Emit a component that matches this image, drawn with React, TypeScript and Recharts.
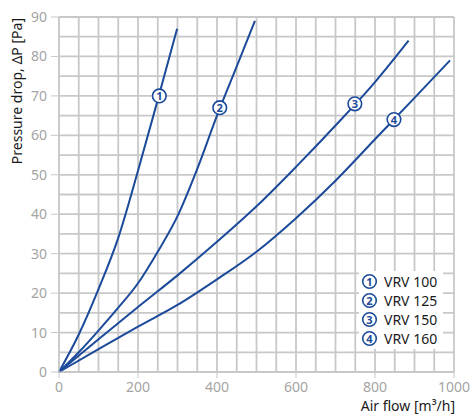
import { LineChart, Line, XAxis, YAxis, ReferenceLine, ReferenceDot } from "recharts"

// --- Pressure drop curves ---
const SERIES = ["VRV 100", "VRV 125", "VRV 150", "VRV 160"]

const flow100 = [0, 50, 100, 150, 200, 250, 299]
const dp100 = [0, 9.5, 21, 34, 51, 69, 87]

const flow125 = [0, 50, 100, 150, 200, 250, 300, 350, 400, 450, 496]
const dp125 = [0, 5, 10.5, 16.3, 22.5, 30.5, 39.5, 51.5, 65, 77.5, 89]

const flow150 = [0, 100, 200, 300, 400, 500, 600, 700, 800, 885]
const dp150 = [0, 8.3, 16.5, 24.5, 33, 42, 52, 62.5, 73.5, 84]

const flow160 = [0, 100, 200, 300, 400, 500, 600, 700, 800, 900, 990]
const dp160 = [0, 5.8, 11.5, 17, 23.5, 30.5, 39, 48.5, 59, 69.5, 79]

// where the circled numbers sit on each curve
const markerFlow = [254, 407, 749, 848]
const markerDp = [70, 67, 68, 64]

const xTicks = [0, 200, 400, 600, 800, 1000]
const yTicks = [0, 10, 20, 30, 40, 50, 60, 70, 80, 90]
const gridX = Array.from({ length: 21 }, (_, i) => i * 50)
const gridY = Array.from({ length: 19 }, (_, i) => i * 5)

const BLUE = "#1c4a9a"
const GRID = "#c8c8c8"
const TICK = "#a4a4a4"
const FONT = "'Noto Sans', 'Open Sans', sans-serif"

const toPoints = (xs: number[], ys: number[]) => xs.map((x, i) => ({ x, y: ys[i] }))
const curves = [
  toPoints(flow100, dp100),
  toPoints(flow125, dp125),
  toPoints(flow150, dp150),
  toPoints(flow160, dp160),
]

const Badge = ({ cx, cy, n }: any) => (
  <g>
    <circle cx={cx} cy={cy} r={6.8} fill="#fff" stroke={BLUE} strokeWidth={1.6} />
    <text x={cx} y={cy + 4} textAnchor="middle" fontSize={11} fontWeight={700}
      fontFamily={FONT} fill={BLUE}>{n}</text>
  </g>
)

const YTitle = ({ viewBox }: any) => (
  <text x={0} y={0} transform={`translate(22, ${viewBox.y + 1}) rotate(-90)`}
    textAnchor="end" fontSize={14} fontFamily={FONT} fill="#1a1a1a">
    Pressure drop, ΔP [Pa]
  </text>
)

export default function App() {
  return (
    <div style={{ position: "absolute", left: 0, top: 0, width: 472, height: 416, background: "#fff" }}>
      <LineChart width={472} height={416} margin={{ top: 17, right: 18, left: 0, bottom: 0 }}>
        <XAxis type="number" dataKey="x" domain={[0, 1000]} ticks={xTicks} height={44}
          stroke={GRID} tickSize={6} tickMargin={4}
          tick={{ fill: TICK, fontSize: 14, fontFamily: FONT }}
          label={{ value: "Air flow [m³/h]", position: "insideBottomRight", offset: 5, dx: 6,
            fill: "#1a1a1a", fontSize: 14, fontFamily: FONT }} />
        <YAxis type="number" domain={[0, 90]} ticks={yTicks} width={59}
          stroke={GRID} tickSize={8} tickMargin={4}
          tick={{ fill: TICK, fontSize: 14, fontFamily: FONT }}
          label={<YTitle />} />

        {/* fine grid: every 50 m³/h and every 5 Pa */}
        {gridX.map(v => (
          <ReferenceLine key={"gx" + v} x={v} stroke={GRID} strokeWidth={1.8} />
        ))}
        {gridY.map(v => (
          <ReferenceLine key={"gy" + v} y={v} stroke={GRID} strokeWidth={1.8} />
        ))}

        {curves.map((pts, i) => (
          <Line key={SERIES[i]} data={pts} dataKey="y" type="monotone" stroke={BLUE}
            strokeWidth={2} dot={false} activeDot={false} isAnimationActive={false} />
        ))}
        {markerFlow.map((x, i) => (
          <ReferenceDot key={i} x={x} y={markerDp[i]}
            shape={(p: any) => <Badge cx={p.cx} cy={p.cy} n={i + 1} />} />
        ))}
      </LineChart>

      {/* legend box */}
      <div style={{
        position: "absolute", left: 359, top: 271, width: 84, padding: "1px 0",
        background: "#fff", fontFamily: FONT
      }}>
        {SERIES.map((name, i) => (
          <div key={name} style={{ display: "flex", alignItems: "center", height: 19 }}>
            <svg width={22} height={19} style={{ flexShrink: 0 }}>
              <Badge cx={10.5} cy={9.5} n={i + 1} />
            </svg>
            <span style={{ fontSize: 14, color: "#1a1a1a", marginLeft: 3 }}>{name}</span>
          </div>
        ))}
      </div>
    </div>
  )
}
